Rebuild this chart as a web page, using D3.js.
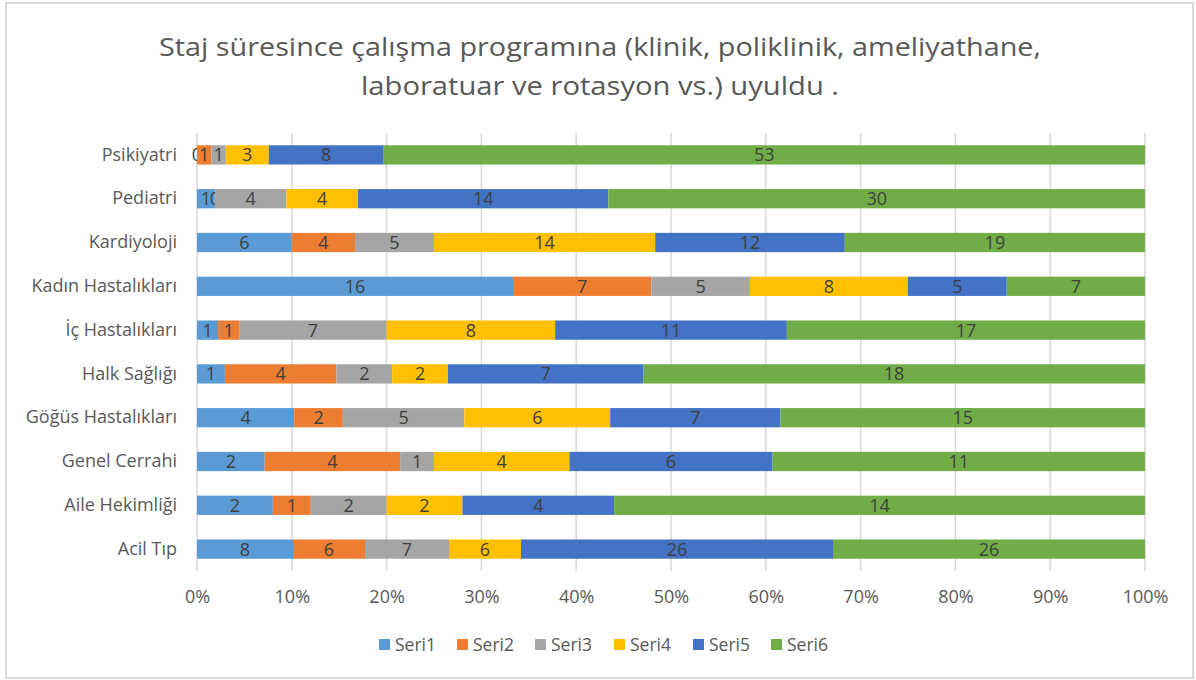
<!DOCTYPE html>
<html>
<head>
<meta charset="utf-8">
<script src="https://cdn.jsdelivr.net/npm/d3@7"></script>
<style>
  body { margin: 0; background: #fff; }
  svg text { font-family: "Open Sans", "Noto Sans", sans-serif; }
</style>
</head>
<body>
<svg id="vis"></svg>
<script>
const categories = ["Psikiyatri", "Pediatri", "Kardiyoloji", "Kadın Hastalıkları", "İç Hastalıkları",
  "Halk Sağlığı", "Göğüs Hastalıkları", "Genel Cerrahi", "Aile Hekimliği", "Acil Tıp"];
const seriesNames = ["Seri1", "Seri2", "Seri3", "Seri4", "Seri5", "Seri6"];
const seri1 = [0, 1, 6, 16, 1, 1, 4, 2, 2, 8];
const seri2 = [1, 0, 4, 7, 1, 4, 2, 4, 1, 6];
const seri3 = [1, 4, 5, 5, 7, 2, 5, 1, 2, 7];
const seri4 = [3, 4, 14, 8, 8, 2, 6, 4, 2, 6];
const seri5 = [8, 14, 12, 5, 11, 7, 7, 6, 4, 26];
const seri6 = [53, 30, 19, 7, 17, 18, 15, 11, 14, 26];
const colors = ["#5b9bd5", "#ed7d31", "#a5a5a5", "#ffc000", "#4472c4", "#70ad47"];
const tickValues = [0, 0.1, 0.2, 0.3, 0.4, 0.5, 0.6, 0.7, 0.8, 0.9, 1];

const width = 1196, height = 680;
const svg = d3.select("#vis").attr("width", width).attr("height", height);

// chart frame
svg.append("rect")
  .attr("x", 6).attr("y", 3).attr("width", 1187).attr("height", 675)
  .attr("fill", "#fff").attr("stroke", "#d9d9d9").attr("stroke-width", 2);

// title
const title = svg.append("text")
  .attr("text-anchor", "middle")
  .attr("fill", "#595959")
  .style("font-size", "26px");
title.append("tspan").attr("x", 600).attr("y", 56)
  .attr("textLength", 882).attr("lengthAdjust", "spacingAndGlyphs")
  .text("Staj süresince çalışma programına (klinik, poliklinik, ameliyathane,");
title.append("tspan").attr("x", 600).attr("y", 95)
  .attr("textLength", 478).attr("lengthAdjust", "spacingAndGlyphs")
  .text("laboratuar ve rotasyon vs.) uyuldu   .");

const allSeries = [seri1, seri2, seri3, seri4, seri5, seri6];
const rows = categories.map((c, i) => {
  const row = { cat: c };
  seriesNames.forEach((s, j) => row[s] = allSeries[j][i]);
  return row;
});

const stacked = d3.stack().keys(seriesNames).offset(d3.stackOffsetExpand)(rows);

const x = d3.scaleLinear().domain([0, 1]).range([197, 1145]);
const y = d3.scaleBand().domain(categories).range([133, 571]).paddingInner(0.56).paddingOuter(0.28);

// gridlines
svg.append("g").selectAll("line")
  .data(tickValues)
  .enter().append("line")
  .attr("x1", d => x(d)).attr("x2", d => x(d))
  .attr("y1", 133).attr("y2", 571)
  .attr("stroke", "#d9d9d9").attr("stroke-width", 1.5);

// x axis labels
const xAxis = svg.append("g")
  .attr("transform", "translate(0,571)")
  .call(d3.axisBottom(x).tickValues(tickValues).tickFormat(d3.format(".0%")).tickSize(0).tickPadding(19));
xAxis.select(".domain").remove();
xAxis.selectAll("text").attr("fill", "#595959").style("font-size", "18px")
  .style("font-family", "'Open Sans', sans-serif");

// y axis labels
const yAxis = svg.append("g")
  .attr("transform", "translate(197,0)")
  .call(d3.axisLeft(y).tickSize(0).tickPadding(20));
yAxis.select(".domain").remove();
yAxis.selectAll("text").attr("fill", "#595959").style("font-size", "18px")
  .style("font-family", "'Open Sans', sans-serif");

// bars
const layer = svg.append("g").selectAll("g")
  .data(stacked)
  .enter().append("g")
  .attr("fill", (d, i) => colors[i]);

layer.selectAll("rect")
  .data(d => d)
  .enter().append("rect")
  .attr("x", d => x(d[0]))
  .attr("y", d => y(d.data.cat))
  .attr("width", d => x(d[1]) - x(d[0]))
  .attr("height", y.bandwidth());

// value labels
layer.selectAll("text")
  .data(d => d.map(p => ({ p, key: d.key })))
  .enter().append("text")
  .attr("x", d => (x(d.p[0]) + x(d.p[1])) / 2)
  .attr("y", d => y(d.p.data.cat) + y.bandwidth() / 2)
  .attr("dy", "0.36em")
  .attr("text-anchor", "middle")
  .attr("fill", "#404040")
  .style("font-size", "18px")
  .text(d => d.p.data[d.key]);

// legend
const legend = svg.append("g");
const legendX = [379, 457, 535, 614, 693, 771];
seriesNames.forEach((s, i) => {
  const g = legend.append("g").attr("transform", `translate(${legendX[i]},645)`);
  g.append("rect").attr("x", 0).attr("y", -6).attr("width", 11).attr("height", 11).attr("fill", colors[i]);
  g.append("text").attr("x", 16).attr("y", 0).attr("dy", "0.36em")
    .attr("fill", "#595959").style("font-size", "17.5px").text(s);
});
</script>
</body>
</html>
